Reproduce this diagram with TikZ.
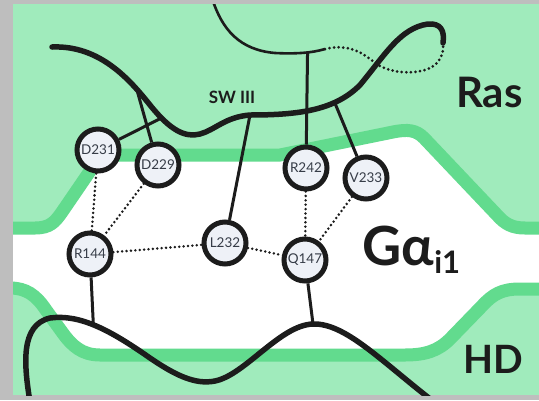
\documentclass[tikz,border=0pt]{standalone}
\usepackage{fontspec}
\setmainfont{Lato}

\definecolor{framegrey}{HTML}{BEBEBE}
\definecolor{palegreen}{HTML}{A0EBBC}
\definecolor{bandgreen}{HTML}{62DB8E}
\definecolor{ink}{HTML}{1C1C1C}
\definecolor{resfill}{HTML}{EEF1F7}
\definecolor{restext}{HTML}{363C47}

% domain boundaries (centre lines of the green rims)
\newcommand\upperrim{(0,228) -- (35,228) .. controls (50,228) and (55,222) .. (62,212)
  -- (88,174) .. controls (96,161) and (104,155) .. (122,155) -- (280,155)
  -- (393,132) .. controls (408,129) and (416,130) .. (424,138)
  -- (497,215) .. controls (505,224) and (512,228) .. (525,228) -- (545,228)}
\newcommand\lowerrim{(545,289) -- (520,289) .. controls (502,289) and (493,294) .. (482,306)
  -- (450,339) .. controls (438,351) and (425,355) .. (405,355) -- (100,355)
  .. controls (82,355) and (72,346) .. (62,332) -- (46,310)
  .. controls (36,295) and (26,288) .. (10,288) -- (0,288)}

\tikzset{
  rim/.style={draw=bandgreen, line width=13pt},
  backbone/.style={draw=ink, line width=5.5pt, line cap=round},
  thinloop/.style={draw=ink, line width=2.6pt},
  dotloop/.style={draw=ink, line width=3pt, line cap=round, dash pattern=on 0pt off 4.6pt},
  stem/.style={draw=ink, line width=3pt},
  contact/.style={draw=ink, line width=2.8pt, line cap=round, dash pattern=on 0pt off 4.4pt},
  residue/.style={circle, draw=ink, line width=5pt, fill=resfill, minimum size=42pt,
    inner sep=0pt, text=restext, font=\fontsize{13.5}{15}\selectfont},
  domainlabel/.style={anchor=base west, inner sep=0pt, text=ink, font=\bfseries}
}

\begin{document}
\begin{tikzpicture}[x=1pt, y=-1pt]
\useasboundingbox (0,0) rectangle (539,400);
\fill[framegrey] (0,0) rectangle (539,400);

\begin{scope}
\clip (13,4) rectangle (539,395);
\fill[palegreen] (13,4) rectangle (539,395);

% Galpha pocket between the two rims
\fill[white] \upperrim -- \lowerrim -- cycle;
\draw[rim] \upperrim;
\draw[rim] \lowerrim;

% switch III backbone
\draw[backbone] (52,47) .. controls (100,45) and (130,80) .. (150,105) coordinate[pos=0.8] (a229)
  .. controls (170,130) and (185,138) .. (200,134) coordinate[pos=0.2] (a231)
  .. controls (215,130) and (225,117) .. (250,115) coordinate (a232)
  .. controls (300,115) and (335,110) .. (360,85) coordinate[pos=0.7] (a233)
  .. controls (385,55) and (400,28) .. (428,24)
  .. controls (440,23) and (445,30) .. (443,43) coordinate (swend);

% thin strand from the top and its disordered (dotted) part
\draw[thinloop] (212,-2) .. controls (222,30) and (240,50) .. (275,53)
  .. controls (295,54) and (312,53) .. (325,49) coordinate[pos=0.6] (a242) coordinate (thinend);
\draw[dotloop] (thinend) .. controls (345,44) and (360,50) .. (375,63)
  .. controls (390,74) and (420,76) .. (435,65)
  .. controls (442,58) and (444,50) .. (swend);

% helical domain backbone
\draw[backbone] (30,402) .. controls (24,365) and (20,325) .. (50,318)
  .. controls (80,314) and (110,330) .. (150,358) coordinate[pos=0.47] (b144)
  .. controls (175,375) and (195,385) .. (215,381)
  .. controls (245,375) and (280,325) .. (313,324) coordinate (b147)
  .. controls (345,323) and (380,360) .. (434,402);

% residues
\node[residue] (d231) at (98,150)  {D231};
\node[residue] (d229) at (158,165) {D229};
\node[residue] (r242) at (306,168) {R242};
\node[residue] (v233) at (366,178) {V233};
\node[residue] (r144) at (90,254)  {R144};
\node[residue] (l232) at (225,243) {L232};
\node[residue] (q147) at (305,260) {Q147};

% side chains to the backbones
\draw[stem] (d231) -- (a231);
\draw[stem] (d229) -- (a229);
\draw[stem] (l232) -- (a232);
\draw[stem] (r242) -- (a242);
\draw[stem] (v233) -- (a233);
\draw[stem] (r144) -- (b144);
\draw[stem] (q147) -- (b147);

% contacts
\draw[contact] (d231) -- (r144);
\draw[contact] (d229) -- (r144);
\draw[contact] (r144) -- (l232);
\draw[contact] (l232) -- (q147);
\draw[contact] (r242) -- (q147);
\draw[contact] (v233) -- (q147);

% labels
\node[domainlabel, font=\bfseries\fontsize{17}{20}\selectfont, anchor=base] (sw) at (232,103) {SW III};
\node[domainlabel, font=\bfseries\fontsize{42}{48}\selectfont] (ras) at (456,107) {Ras};
\node[domainlabel, font=\bfseries\fontsize{39}{44}\selectfont] (hd) at (463,373) {HD};
\node[domainlabel, font=\bfseries\fontsize{54}{60}\selectfont] (ga) at (362,265) {Gα};
\node[domainlabel, font=\bfseries\fontsize{31}{34}\selectfont] (gsub) at (ga.base east) [yshift=-8pt] {i1};
\end{scope}
\end{tikzpicture}
\end{document}
